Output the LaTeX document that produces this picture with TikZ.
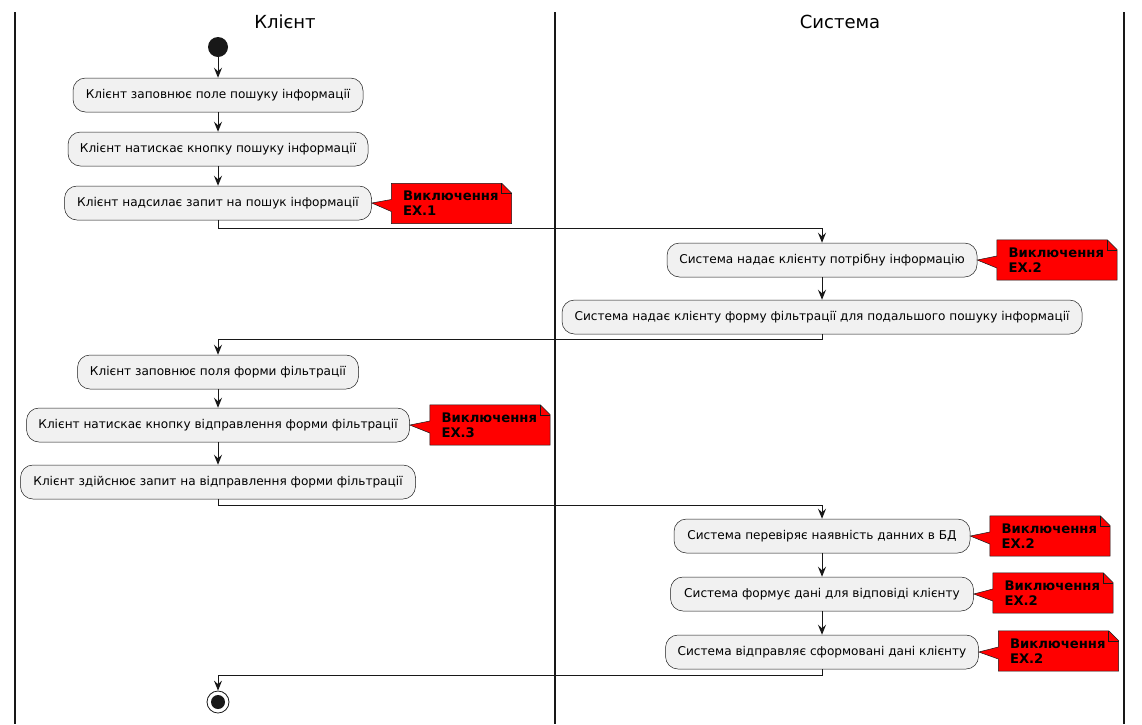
\documentclass[tikz,border=0pt]{standalone}
\usepackage{fontspec}
\setmainfont{DejaVu Sans}
\usetikzlibrary{arrows.meta,backgrounds}
\definecolor{actfill}{HTML}{F1F1F1}
\definecolor{ink}{HTML}{181818}
\definecolor{notered}{HTML}{FF0000}
\tikzset{
  act/.style={draw=ink, line width=0.5pt, fill=actfill, rounded corners=12.5pt,
    minimum height=34pt, inner sep=0pt, font=\fontsize{12.1}{14}\selectfont, text=black},
  notetext/.style={minimum width=120pt, minimum height=40pt, inner sep=0pt, text width=104pt,
    align=left, font=\fontsize{13.2}{15}\selectfont\bfseries, text=black},
  notebg/.style={draw=ink, line width=0.5pt, fill=notered},
  flow/.style={draw=ink, line width=1pt, -{Stealth[length=10pt,width=8pt,inset=3.5pt]}},
  lane/.style={draw=ink, line width=1.5pt},
  lanetitle/.style={font=\fontsize{18}{20}\selectfont, text=black},
}
\newcommand{\notedecor}[2]{%
  \filldraw[notebg] (#1.north west) -- ([xshift=-10pt]#1.north east) -- ([yshift=-10pt]#1.north east)
    -- (#1.south east) -- (#1.south west) -- ([yshift=-8pt]#1.west) -- (#2.east) -- ([yshift=4pt]#1.west) -- cycle;
  \draw[ink, line width=0.5pt] ([xshift=-10pt]#1.north east) -- ([xshift=-10pt,yshift=-10pt]#1.north east) -- ([yshift=-10pt]#1.north east);
}
\begin{document}
\begin{tikzpicture}[x=1pt,y=-1pt]
\useasboundingbox (0,0) rectangle (1142,724);
% lanes
\coordinate (l1t) at (15,12); \coordinate (l1b) at (15,724);
\coordinate (l2t) at (555,12); \coordinate (l2b) at (555,724);
\coordinate (l3t) at (1124,12); \coordinate (l3b) at (1124,724);
\draw[lane] (l1t) -- (l1b);
\draw[lane] (l2t) -- (l2b);
\draw[lane] (l3t) -- (l3b);
\node[lanetitle] (t1) at (285,22) {Клієнт};
\node[lanetitle] (t2) at (840,22) {Система};

% start / end
\node[circle, fill=ink, minimum size=20pt, inner sep=0pt] (start) at (218,47) {};
\node[circle, draw=ink, line width=0.8pt, fill=white, minimum size=22pt, inner sep=0pt] (end) at (218,702) {};
\node[circle, fill=ink, minimum size=14pt, inner sep=0pt] (endin) at (218,702) {};

% activities
\node[act, minimum width=290pt] (a1) at (218,95) {Клієнт заповнює поле пошуку інформації};
\node[act, minimum width=300pt] (a2) at (218,149) {Клієнт натискає кнопку пошуку інформації};
\node[act, minimum width=307pt] (a3) at (218,203) {Клієнт надсилає запит на пошук інформації};
\node[act, minimum width=310pt] (a4) at (822,260) {Система надає клієнту потрібну інформацію};
\node[act, minimum width=520pt] (a5) at (822,317) {Система надає клієнту форму фільтрації для подальшого пошуку інформації};
\node[act, minimum width=281pt] (a6) at (218,372) {Клієнт заповнює поля форми фільтрації};
\node[act, minimum width=383pt] (a7) at (218,425) {Клієнт натискає кнопку відправлення форми фільтрації};
\node[act, minimum width=395pt] (a8) at (218,482) {Клієнт здійснює запит на відправлення форми фільтрації};
\node[act, minimum width=296pt] (a9) at (822,536) {Система перевіряє наявність данних в БД};
\node[act, minimum width=303pt] (a10) at (822,594) {Система формує дані для відповіді клієнту};
\node[act, minimum width=313pt] (a11) at (822,652) {Система відправляє сформовані дані клієнту};

% notes
\node[notetext] (n1) at (451.5,203.5) {};
\node[notetext] (n2) at (1057,260) {};
\node[notetext] (n3) at (490,425) {};
\node[notetext] (n4) at (1050,536) {};
\node[notetext] (n5) at (1053,593) {};
\node[notetext] (n6) at (1058.5,651) {};
\notedecor{n1}{a3}
\notedecor{n2}{a4}
\notedecor{n3}{a7}
\notedecor{n4}{a9}
\notedecor{n5}{a10}
\notedecor{n6}{a11}
\node[notetext, xshift=3.5pt] at (n1) {Виключення\\EX.1};
\node[notetext, xshift=3.5pt] at (n2) {Виключення\\EX.2};
\node[notetext, xshift=3.5pt] at (n3) {Виключення\\EX.3};
\node[notetext, xshift=3.5pt] at (n4) {Виключення\\EX.2};
\node[notetext, xshift=3.5pt] at (n5) {Виключення\\EX.2};
\node[notetext, xshift=3.5pt] at (n6) {Виключення\\EX.2};

% flows
\draw[flow] (start) -- (a1);
\draw[flow] (a1) -- (a2);
\draw[flow] (a2) -- (a3);
\draw[flow] (a3.south) -- ++(0,8) -| (a4.north);
\draw[flow] (a4) -- (a5);
\draw[flow] (a5.south) -- ++(0,5) -| (a6.north);
\draw[flow] (a6) -- (a7);
\draw[flow] (a7) -- (a8);
\draw[flow] (a8.south) -- ++(0,6) -| (a9.north);
\draw[flow] (a9) -- (a10);
\draw[flow] (a10) -- (a11);
\draw[flow] (a11.south) -- ++(0,6) -| (end.north);
\end{tikzpicture}
\end{document}
